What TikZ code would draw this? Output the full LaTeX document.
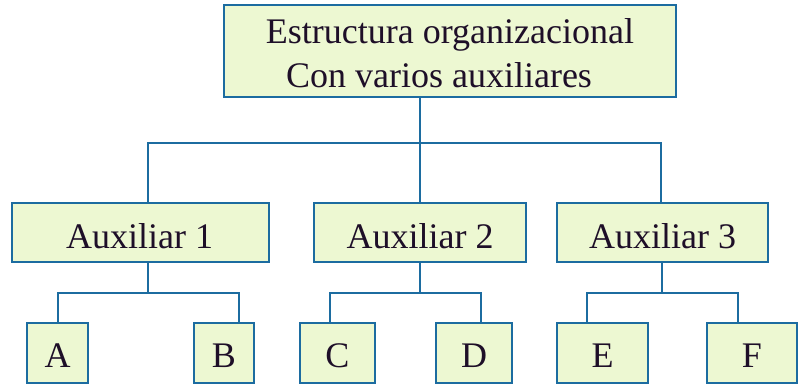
\documentclass[tikz,border=0pt]{standalone}
\usepackage{fontspec}
\setmainfont{Liberation Serif}
\definecolor{boxfill}{RGB}{237,248,210}
\definecolor{boxline}{RGB}{28,108,160}
\definecolor{txt}{RGB}{30,15,40}
\begin{document}
\begin{tikzpicture}[x=1pt,y=-1pt,
  box/.style={draw=boxline,fill=boxfill,line width=2.2pt,inner sep=0pt},
  lbl/.style={anchor=base,inner sep=0pt,text=txt,font=\fontsize{36}{40}\selectfont},
  conn/.style={draw=boxline,line width=2pt}]
\useasboundingbox (0,0) rectangle (798,389);
% boxes
\node[box,minimum width=452pt,minimum height=92pt] (top) at (450,51) {};
\node[box,minimum width=257pt,minimum height=59pt] (a1) at (140.5,232.5) {};
\node[box,minimum width=212pt,minimum height=59pt] (a2) at (420,232.5) {};
\node[box,minimum width=211pt,minimum height=59pt] (a3) at (662.5,232.5) {};
\node[box,minimum width=61pt,minimum height=60pt] (A) at (57.5,353) {};
\node[box,minimum width=60pt,minimum height=60pt] (B) at (224,353) {};
\node[box,minimum width=75pt,minimum height=60pt] (C) at (337.5,353) {};
\node[box,minimum width=76pt,minimum height=60pt] (D) at (474,353) {};
\node[box,minimum width=91pt,minimum height=60pt] (E) at (602.5,353) {};
\node[box,minimum width=90pt,minimum height=60pt] (F) at (752,353) {};
% labels
\node[lbl] (t1) at (450,43) {Estructura organizacional};
\node[lbl] (t2) at (439,87) {Con varios auxiliares};
\node[lbl] (l1) at (139.5,248) {Auxiliar 1};
\node[lbl] (l2) at (420,248) {Auxiliar 2};
\node[lbl] (l3) at (662.5,248) {Auxiliar 3};
\node[lbl] (lA) at (57.5,367) {A};
\node[lbl] (lB) at (224,367) {B};
\node[lbl] (lC) at (337.5,367) {C};
\node[lbl] (lD) at (474,367) {D};
\node[lbl] (lE) at (602.5,367) {E};
\node[lbl] (lF) at (752,367) {F};
% junction coordinates
\coordinate (j1) at (148,143);
\coordinate (j2) at (420,143);
\coordinate (j3) at (661,143);
\coordinate (k1) at (148,293);
\coordinate (k2) at (420,293);
\coordinate (k3) at (662,293);
\coordinate (pA) at (58,293);
\coordinate (pB) at (239,293);
\coordinate (pC) at (330,293);
\coordinate (pD) at (481,293);
\coordinate (pE) at (587,293);
\coordinate (pF) at (738,293);
% connectors
\draw[conn] (j2 |- top.south) -- (j2);
\draw[conn] (j1 |- a1.north) -- (j1) -- (j3) -- (j3 |- a3.north);
\draw[conn] (j2) -- (a2.north);
\draw[conn] (k1 |- a1.south) -- (k1);
\draw[conn] (pA |- A.north) -- (pA) -- (pB) -- (pB |- B.north);
\draw[conn] (a2.south) -- (k2);
\draw[conn] (pC |- C.north) -- (pC) -- (pD) -- (pD |- D.north);
\draw[conn] (k3 |- a3.south) -- (k3);
\draw[conn] (pE |- E.north) -- (pE) -- (pF) -- (pF |- F.north);
\end{tikzpicture}
\end{document}
